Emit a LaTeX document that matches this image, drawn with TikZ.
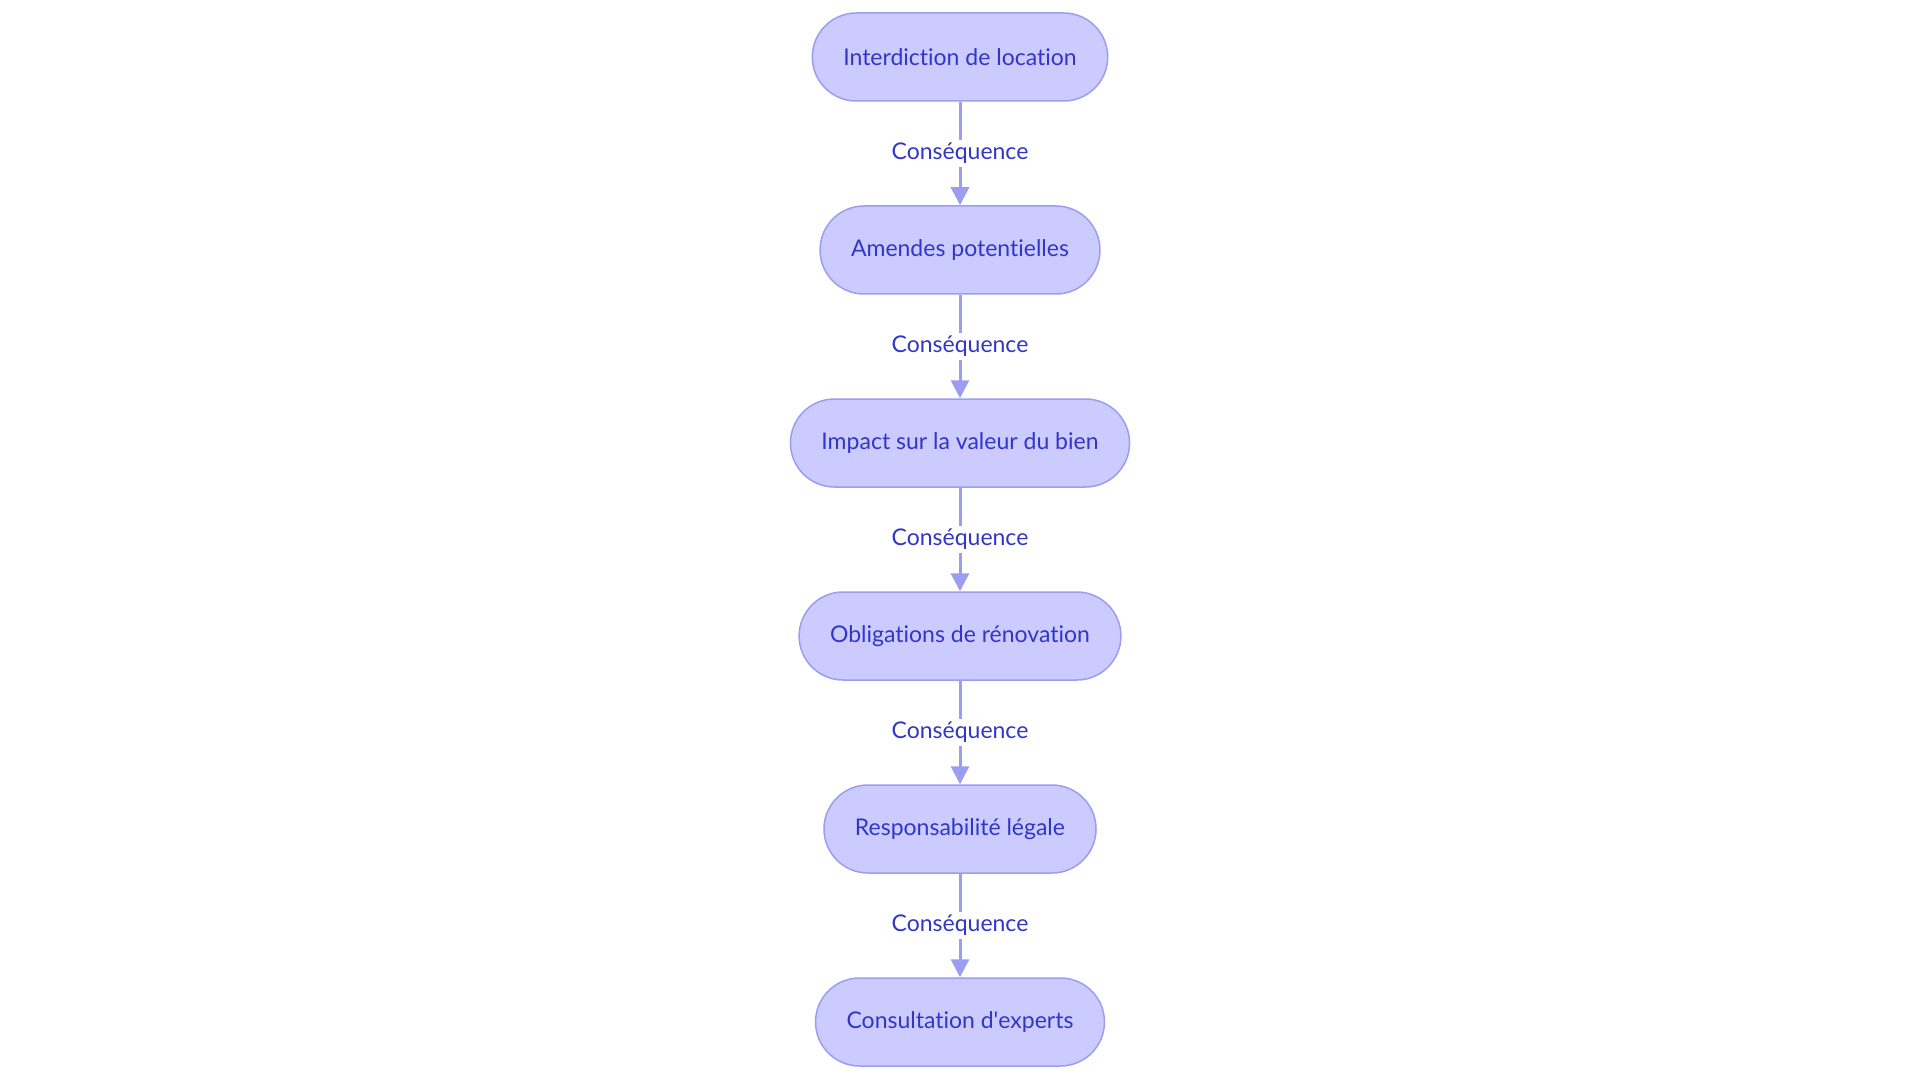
\documentclass[tikz,border=0pt]{standalone}
\usepackage{fontspec}
\setmainfont{Lato}[Ligatures={NoCommon}]
\usetikzlibrary{positioning,arrows.meta}
\definecolor{stepfill}{HTML}{CBCBFF}
\definecolor{stepline}{HTML}{9A9DF0}
\definecolor{steptext}{HTML}{3236C8}

\begin{document}
\begin{tikzpicture}[x=1pt,y=1pt,
    stage/.style={draw=stepline,fill=stepfill,line width=1.5pt,rounded corners=44pt,
        minimum height=88pt,inner xsep=31pt,text=steptext,font=\fontsize{23}{28}\selectfont},
    link/.style={draw=stepline,line width=3pt,-{Triangle[length=18pt,width=18pt]}},
    tag/.style={fill=white,text=steptext,inner sep=3pt,font=\fontsize{23}{28}\selectfont},
    node distance=103.5pt]
    \useasboundingbox (0,0) rectangle (1920,-1083);

    \node[stage] (ban) at (960,-57) {Interdiction de location};
    \node[stage,below=of ban] (fines) {Amendes potentielles};
    \node[stage,below=of fines] (value) {Impact sur la valeur du bien};
    \node[stage,below=of value] (works) {Obligations de rénovation};
    \node[stage,below=of works] (liable) {Responsabilité légale};
    \node[stage,below=of liable] (experts) {Consultation d\textquotesingle experts};

    \draw[link] (ban) -- node[tag] {Conséquence} (fines);
    \draw[link] (fines) -- node[tag] {Conséquence} (value);
    \draw[link] (value) -- node[tag] {Conséquence} (works);
    \draw[link] (works) -- node[tag] {Conséquence} (liable);
    \draw[link] (liable) -- node[tag] {Conséquence} (experts);

\end{tikzpicture}
\end{document}
